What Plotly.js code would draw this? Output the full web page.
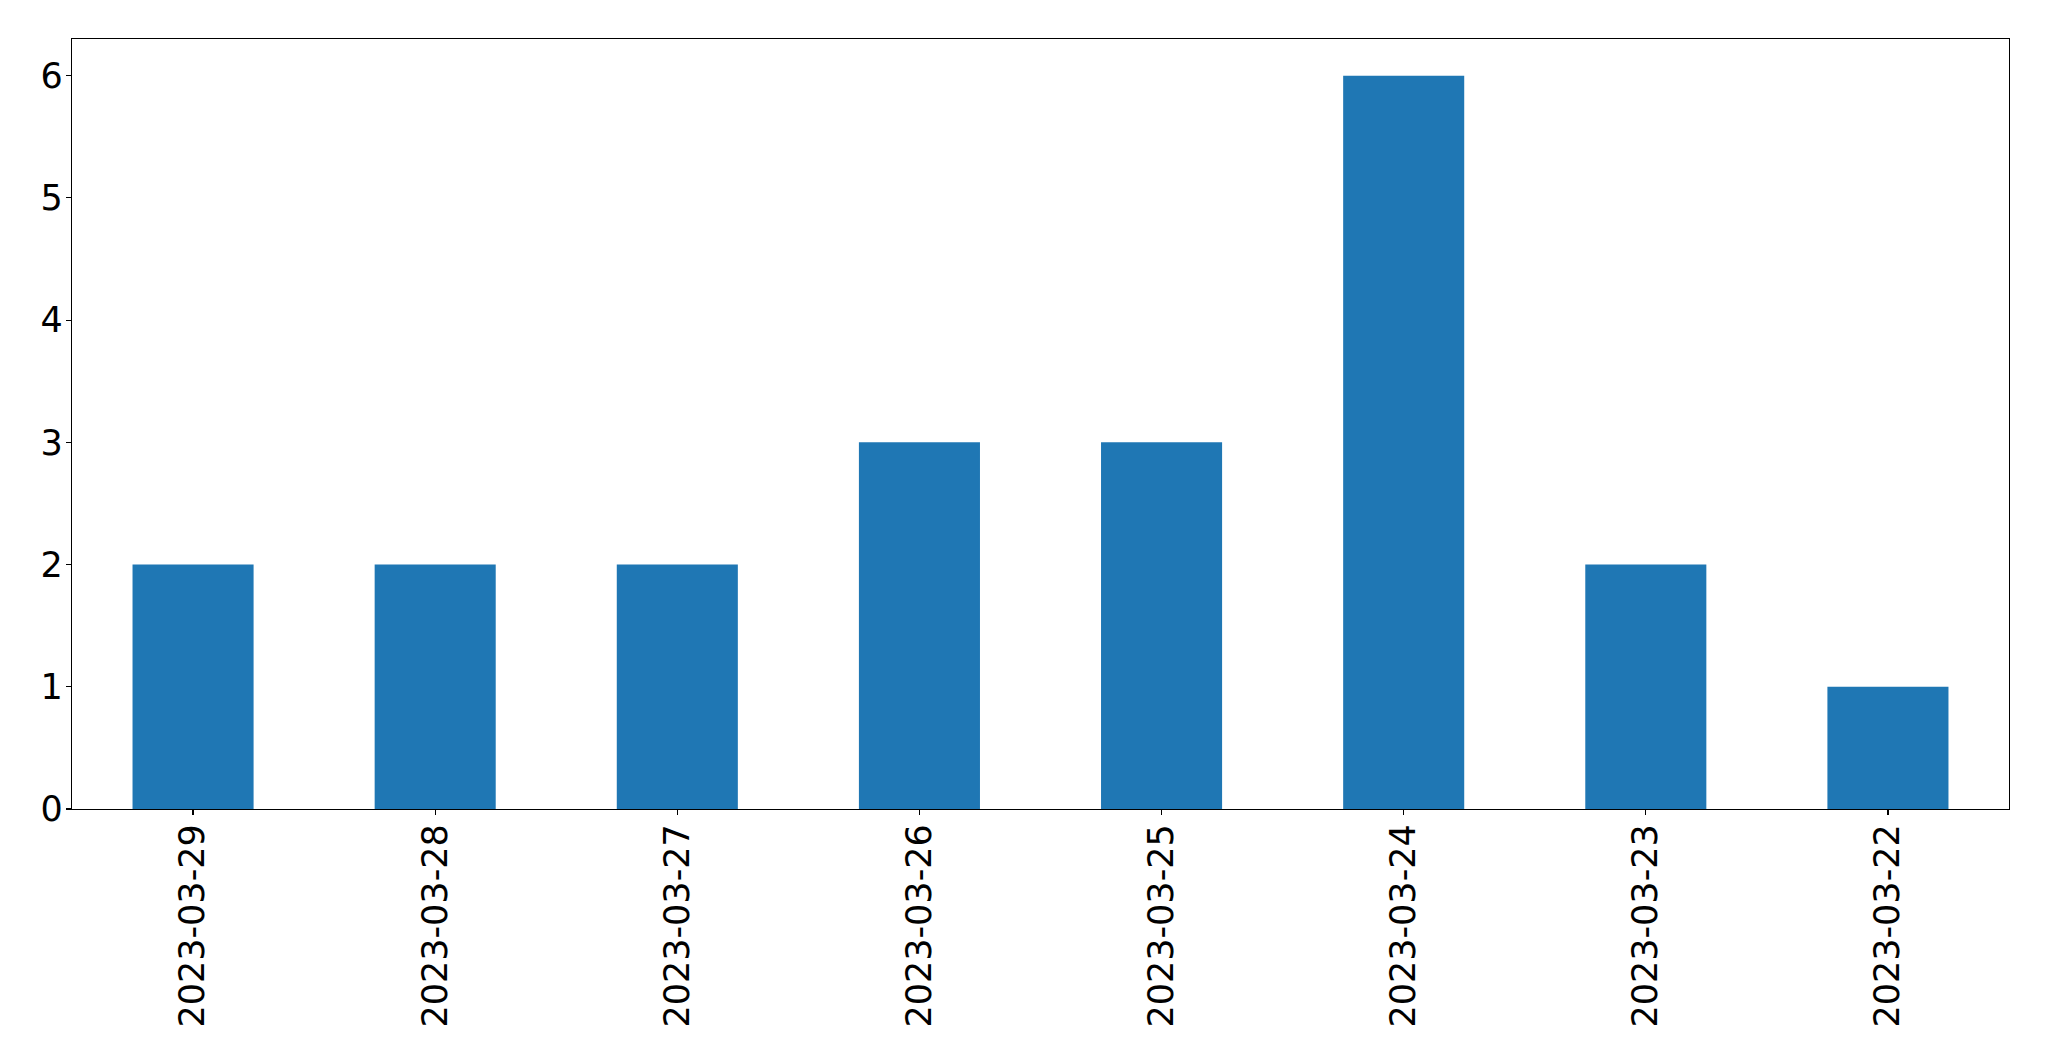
<!DOCTYPE html>
<html>
<head>
<meta charset="utf-8">
<script src="https://cdn.plot.ly/plotly-3.0.1.min.js"></script>
<style>html,body{margin:0;padding:0;background:#fff;}#chart{width:2049px;height:1061px;}</style>
</head>
<body>
<div id="chart"></div>
<script>
const categories = ["2023-03-29","2023-03-28","2023-03-27","2023-03-26","2023-03-25","2023-03-24","2023-03-23","2023-03-22"];
const counts = [2,2,2,3,3,6,2,1];
const yTicks = [0,1,2,3,4,5,6];

const trace = {
  type: 'bar',
  x: categories,
  y: counts,
  marker: {color: '#1f77b4', line: {width: 0}},
  hoverinfo: 'x+y'
};

const font = {family: 'DejaVu Sans, sans-serif', size: 35, color: '#000'};

const layout = {
  width: 2049, height: 1061,
  margin: {l: 72, r: 40, t: 39, b: 252, pad: 0},
  paper_bgcolor: '#fff', plot_bgcolor: '#fff',
  bargap: 0.5,
  showlegend: false,
  font: font,
  xaxis: {
    type: 'category',
    range: [-0.5, categories.length - 0.5],
    tickangle: -90,
    ticks: 'outside', ticklen: 5, tickwidth: 1.2, tickcolor: '#000',
    showline: true, linecolor: '#000', linewidth: 1.2, mirror: true,
    showgrid: false, zeroline: false,
    tickfont: font,
    ticklabelstandoff: -5
  },
  yaxis: {
    range: [0, 6.3],
    tickvals: yTicks,
    ticktext: yTicks.map(String),
    ticks: 'outside', ticklen: 5, tickwidth: 1.2, tickcolor: '#000',
    showline: true, linecolor: '#000', linewidth: 1.2, mirror: true,
    showgrid: false, zeroline: false,
    tickfont: font,
    ticklabelstandoff: -4
  }
};

Plotly.newPlot('chart', [trace], layout, {displayModeBar: false, staticPlot: true});
</script>
</body>
</html>
